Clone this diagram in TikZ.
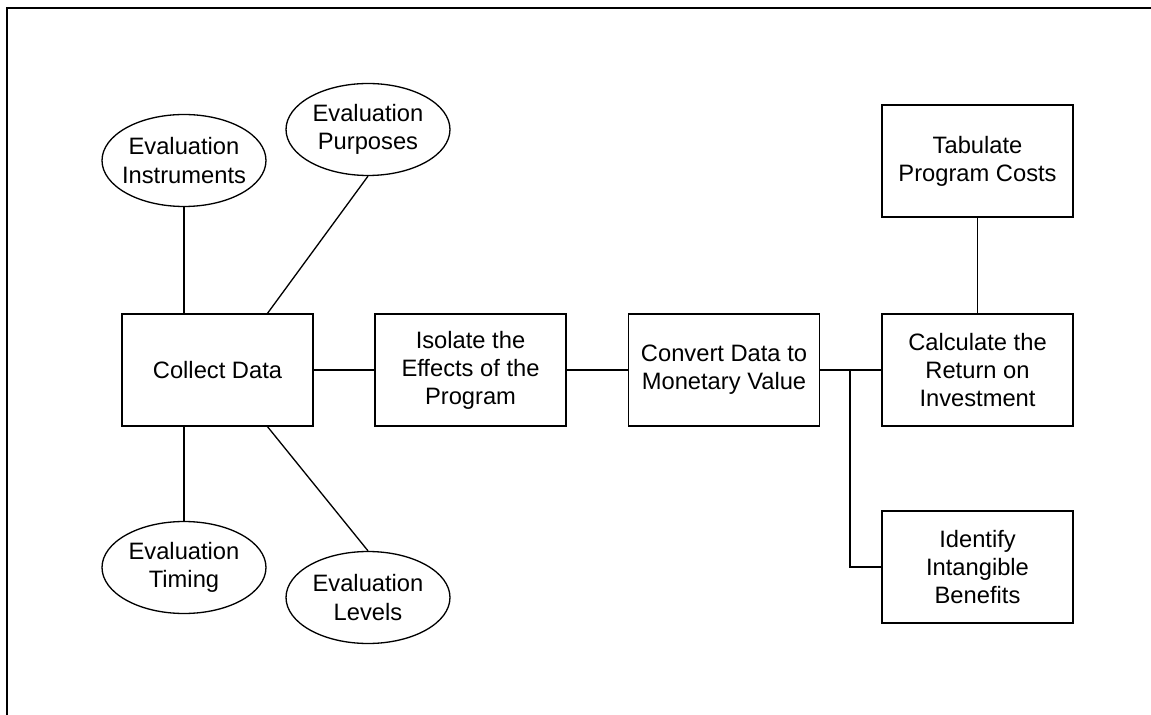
\documentclass[tikz,border=0pt]{standalone}
\usepackage{fontspec}
\setmainfont{Liberation Sans}
\usepackage{tikz}
\usetikzlibrary{shapes.geometric, positioning, calc}

\begin{document}
\begin{tikzpicture}[
    x=0.02cm,y=-0.02cm,
    stepbox/.style={rectangle,draw=black,line width=0.75pt,fill=white,
                    minimum width=3.82cm,minimum height=2.24cm,align=center,
                    font=\fontsize{13.5}{16}\selectfont},
    evalnode/.style={ellipse,draw=black,line width=0.75pt,fill=white,inner sep=0pt,
                     minimum width=3.28cm,minimum height=1.84cm,align=center,
                     font=\fontsize{13.5}{16}\selectfont},
    link/.style={line width=0.75pt,black}
]
    \useasboundingbox (0,0) rectangle (1151,715);
    % Frame
    \draw[line width=1.1pt] (7,715) -- (7,8) -- (1151,8);

    % Main chain
    \node[stepbox] (collect) at (217.5,370) {Collect Data};
    \node[stepbox] (isolate) at (470.5,370) {Isolate the\\Effects of the\\Program};
    \node[stepbox] (convert) at (724,370) {Convert Data to\\Monetary Value};
    \node[stepbox] (calcroi) at (977.5,370) {Calculate the\\Return on\\Investment};
    \node[stepbox] (costs) at (977.5,161) {Tabulate\\Program Costs};
    \node[stepbox] (intang) at (977.5,567) {Identify\\Intangible\\Benefits};

    % Evaluation ellipses
    \node[evalnode] (instr) at (184,160.5) {\makebox[2cm]{Evaluation}\\\makebox[2cm]{Instruments}};
    \node[evalnode] (purp) at (368,129.5) {\makebox[2cm]{Evaluation}\\\makebox[2cm]{Purposes}};
    \node[evalnode] (timing) at (184,567.5) {\makebox[2cm]{Evaluation}\\\makebox[2cm]{Timing}};
    \node[evalnode] (levels) at (368,597.5) {\makebox[2cm]{Evaluation}\\\makebox[2cm]{Levels}};

    % Links
    \coordinate (split) at (850,370);
    \draw[link] (instr.south) -- (instr.south |- collect.north);
    \draw[link] (purp.south) -- ($(collect.north)!0.52!(collect.north east)$);
    \draw[link] (timing.north) -- (timing.north |- collect.south);
    \draw[link] (levels.north) -- ($(collect.south)!0.52!(collect.south east)$);
    \draw[link] (collect.east) -- (isolate.west);
    \draw[link] (isolate.east) -- (convert.west);
    \draw[link] (convert.east) -- (calcroi.west);
    \draw[link] (costs.south) -- (calcroi.north);
    \draw[link] (split) |- (intang.west);
\end{tikzpicture}
\end{document}
